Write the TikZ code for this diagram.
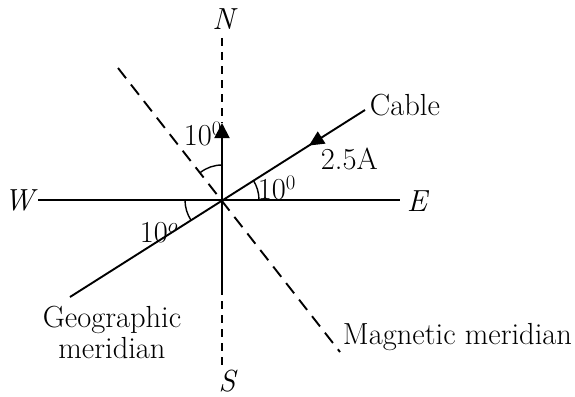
\documentclass[tikz,border=0pt]{standalone}
\usetikzlibrary{arrows.meta,decorations.markings}
\begin{document}
\begin{tikzpicture}[x=1pt,y=-1pt,line width=1.9pt,
  lbl/.style={font=\fontsize{30.5}{31}\selectfont, inner sep=0pt},
  angarc/.style={line width=1.4pt},
  vdash/.style={dash pattern=on 8pt off 6pt},
  mdash/.style={dash pattern=on 13pt off 8pt}]
\useasboundingbox (0,0) rectangle (575,396);
\coordinate (O) at (222,200);
\coordinate (Ntop) at (222,38);
\coordinate (Nar) at (222,123);
\coordinate (Smid) at (222,287);
\coordinate (Sbot) at (222,366);
\coordinate (Wend) at (38,200);
\coordinate (Eend) at (400,200);
\coordinate (Ca) at (70,297);
\coordinate (Cb) at (365,110);
\coordinate (Ma) at (118,68);
\coordinate (Mb) at (340,352);
% N-S line
\draw[vdash] (Ntop) -- (Nar);
\draw[-{Triangle[length=15pt,width=15pt]}] (O) -- (Nar);
\draw (O) -- (Smid);
\draw[vdash] (Smid) -- (Sbot);
% W-E line
\draw (Wend) -- (Eend);
% magnetic meridian
\draw[mdash] (Ma) -- (Mb);
% cable
\draw[postaction={decorate},decoration={markings,mark=at position 0.19 with {\arrow{Triangle[length=15pt,width=14pt]}}}] (Cb) -- (Ca);
% angle arcs
\draw[angarc] (O) ++(231.8:35) arc[start angle=231.8, end angle=270, radius=35];
\draw[angarc] (O) ++(327.8:37) arc[start angle=327.8, end angle=360, radius=37];
\draw[angarc] (O) ++(147.2:37) arc[start angle=147.2, end angle=180, radius=37];
% labels
\node[lbl,anchor=base] (nN) at (225,30) {\textit{N}};
\node[lbl,anchor=base] (nS) at (228,391) {\textit{S}};
\node[lbl,anchor=base] (nW) at (21,210) {\textit{W}};
\node[lbl,anchor=base] (nE) at (418,211) {\textit{E}};
\node[lbl,anchor=base west] (cab) at (369,115) {Cable};
\node[lbl,anchor=base west] (cur) at (320,169) {2.5A};
\node[lbl,anchor=base west] (aN) at (183,145) {10$^{0}$};
\node[lbl,anchor=base west] (aE) at (257,199) {10$^{0}$};
\node[lbl,anchor=base west] (aW) at (139,242) {10$^{o}$};
\node[lbl,anchor=base west] (mm) at (342,344) {Magnetic meridian};
\node[lbl,align=center,anchor=base] (gm) at (112,358) {Geographic\\meridian};
\end{tikzpicture}
\end{document}
